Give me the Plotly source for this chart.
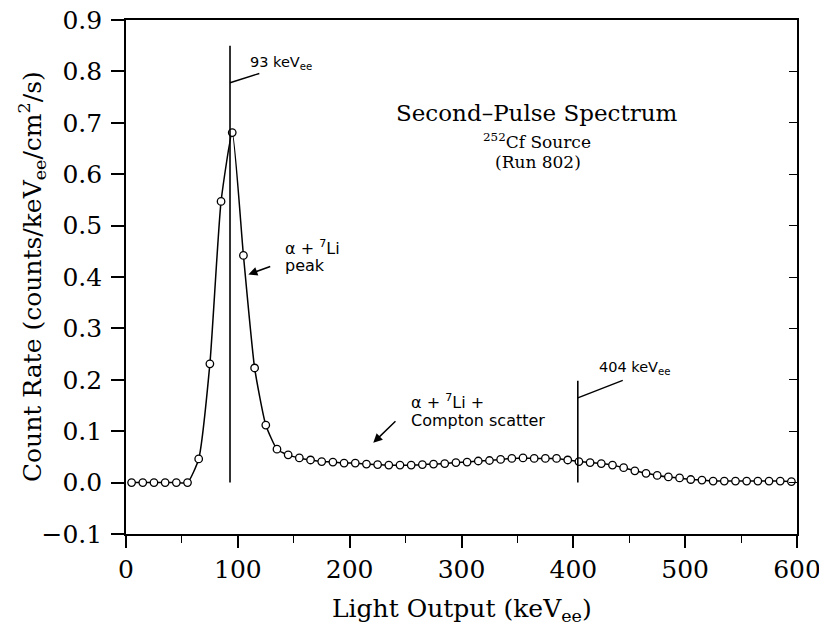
import plotly.graph_objects as go

# ---- data ----
light_output = [5, 15, 25, 35, 45, 55, 65, 75, 85, 95,
                105, 115, 125, 135, 145, 155, 165, 175, 185, 195,
                205, 215, 225, 235, 245, 255, 265, 275, 285, 295,
                305, 315, 325, 335, 345, 355, 365, 375, 385, 395,
                405, 415, 425, 435, 445, 455, 465, 475, 485, 495,
                505, 515, 525, 535, 545, 555, 565, 575, 585, 595]
count_rate = [0.000, 0.000, 0.000, 0.000, 0.000, 0.000, 0.046, 0.231, 0.547, 0.681,
              0.442, 0.223, 0.112, 0.065, 0.054, 0.048, 0.044, 0.041, 0.040, 0.038,
              0.038, 0.036, 0.035, 0.034, 0.034, 0.034, 0.035, 0.036, 0.037, 0.039,
              0.040, 0.042, 0.043, 0.045, 0.047, 0.048, 0.047, 0.047, 0.047, 0.044,
              0.041, 0.039, 0.037, 0.034, 0.029, 0.023, 0.018, 0.014, 0.011, 0.009,
              0.006, 0.005, 0.003, 0.003, 0.003, 0.003, 0.003, 0.003, 0.003, 0.002]

marker_energy = [93, 404]          # keV_ee lines
marker_top = [0.85, 0.198]
marker_labels = ["93 keV<sub>ee</sub>", "404 keV<sub>ee</sub>"]

x_ticks = [0, 100, 200, 300, 400, 500, 600]
y_ticks = [-0.1, 0.0, 0.1, 0.2, 0.3, 0.4, 0.5, 0.6, 0.7, 0.8, 0.9]

x_range = [0, 600]
y_range = [-0.1, 0.9]

SERIF = "DejaVu Serif"
SANS = "DejaVu Sans"

fig = go.Figure()

fig.add_trace(go.Scatter(
    x=light_output, y=count_rate, mode="lines+markers",
    line=dict(color="black", width=1.5, shape="spline", smoothing=0.5),
    marker=dict(symbol="circle", size=7.5, color="white",
                line=dict(color="black", width=1.3)),
    showlegend=False, hoverinfo="x+y"))

# invisible trace to carry the right-hand (mirror) axis with inward ticks
fig.add_trace(go.Scatter(x=light_output, y=count_rate, yaxis="y2", mode="lines",
                         line=dict(width=0), opacity=0, showlegend=False,
                         hoverinfo="skip"))

# vertical energy marker lines
for e, top in zip(marker_energy, marker_top):
    fig.add_shape(type="line", x0=e, x1=e, y0=0.0, y1=top,
                  line=dict(color="black", width=1.6), xref="x", yref="y")

# leader lines for marker labels
fig.add_shape(type="line", x0=93, y0=0.778, x1=119.2, y1=0.796,
              line=dict(color="black", width=1.4))
fig.add_shape(type="line", x0=404, y0=0.165, x1=444.2, y1=0.199,
              line=dict(color="black", width=1.4))

ann_font = dict(family=SANS, size=14.5, color="black")
fig.add_annotation(x=109.1, y=0.816, text=marker_labels[0], showarrow=False,
                   xanchor="left", yanchor="middle", font=ann_font)
fig.add_annotation(x=421.2, y=0.223, text=marker_labels[1], showarrow=False,
                   xanchor="left", yanchor="middle", font=ann_font)

lbl_font = dict(family=SANS, size=16, color="black")
fig.add_annotation(x=140.4, y=0.458, text="α + <sup>7</sup>Li", showarrow=False,
                   xanchor="left", yanchor="middle", font=lbl_font)
fig.add_annotation(x=140.4, y=0.423, text="peak", showarrow=False,
                   xanchor="left", yanchor="middle", font=lbl_font)
fig.add_annotation(x=109.4, y=0.405, ax=130.3, ay=0.4214, axref="x", ayref="y",
                   text="", showarrow=True, arrowhead=2, arrowsize=1.2,
                   arrowwidth=1.5, arrowcolor="black")

fig.add_annotation(x=253.1, y=0.157, text="α + <sup>7</sup>Li +", showarrow=False,
                   xanchor="left", yanchor="middle", font=lbl_font)
fig.add_annotation(x=253.1, y=0.121, text="Compton scatter", showarrow=False,
                   xanchor="left", yanchor="middle", font=lbl_font)
fig.add_annotation(x=221.1, y=0.0776, ax=242.3, ay=0.122, axref="x", ayref="y",
                   text="", showarrow=True, arrowhead=2, arrowsize=1.2,
                   arrowwidth=1.5, arrowcolor="black")

# title block
fig.add_annotation(x=367.5, y=0.719, text="Second\u2013Pulse Spectrum", showarrow=False,
                   xanchor="center", yanchor="middle",
                   font=dict(family=SERIF, size=23, color="black"))
fig.add_annotation(x=367.5, y=0.665, text="<sup>252</sup>Cf Source", showarrow=False,
                   xanchor="center", yanchor="middle",
                   font=dict(family=SERIF, size=17, color="black"))
fig.add_annotation(x=368.5, y=0.624, text="(Run 802)", showarrow=False,
                   xanchor="center", yanchor="middle",
                   font=dict(family=SERIF, size=17, color="black"))

# axis titles
fig.add_annotation(x=-0.140, y=0.5, xref="paper", yref="paper",
                   text="Count Rate (counts/keV<sub>ee</sub>/cm<sup>2</sup>/s)",
                   textangle=-90, showarrow=False, xanchor="center", yanchor="middle",
                   font=dict(family=SERIF, size=25, color="black"))
fig.add_annotation(x=0.5, y=-0.148, xref="paper", yref="paper",
                   text="Light Output (keV<sub>ee</sub>)",
                   showarrow=False, xanchor="center", yanchor="middle",
                   font=dict(family=SERIF, size=25, color="black"))

tick_font = dict(family=SERIF, size=25, color="black")
# the page body adds an 8 px offset, so the figure is sized 819x624
fig.update_layout(
    width=819, height=624,
    margin=dict(l=118, r=30, t=12, b=98),
    paper_bgcolor="white", plot_bgcolor="white",
    showlegend=False,
    xaxis=dict(range=x_range, tickvals=x_ticks, ticktext=[str(v) for v in x_ticks],
               showgrid=False, zeroline=False, showline=True, linecolor="black",
               linewidth=1.6, mirror=True, ticks="outside", ticklen=12, tickwidth=1.5,
               tickcolor="black", tickfont=tick_font, automargin=False,
               ticklabeloverflow="allow",
               minor=dict(dtick=50, tick0=0, ticks="outside", ticklen=7,
                          tickwidth=1.3, tickcolor="black", showgrid=False)),
    yaxis=dict(range=y_range, tickvals=y_ticks, tickformat=".1f",
               showgrid=False, zeroline=False, showline=True, linecolor="black",
               linewidth=1.6, mirror=True, ticks="outside", ticklen=13, tickwidth=1.5,
               tickcolor="black", tickfont=tick_font, ticklabelstandoff=4,
               automargin=False, ticklabeloverflow="allow"),
    yaxis2=dict(range=y_range, tickvals=y_ticks, overlaying="y", side="right",
                showgrid=False, zeroline=False, showline=False, showticklabels=False,
                ticks="inside", ticklen=8, tickwidth=1.3, tickcolor="black",
                automargin=False),
)

fig.write_html("out.html")
